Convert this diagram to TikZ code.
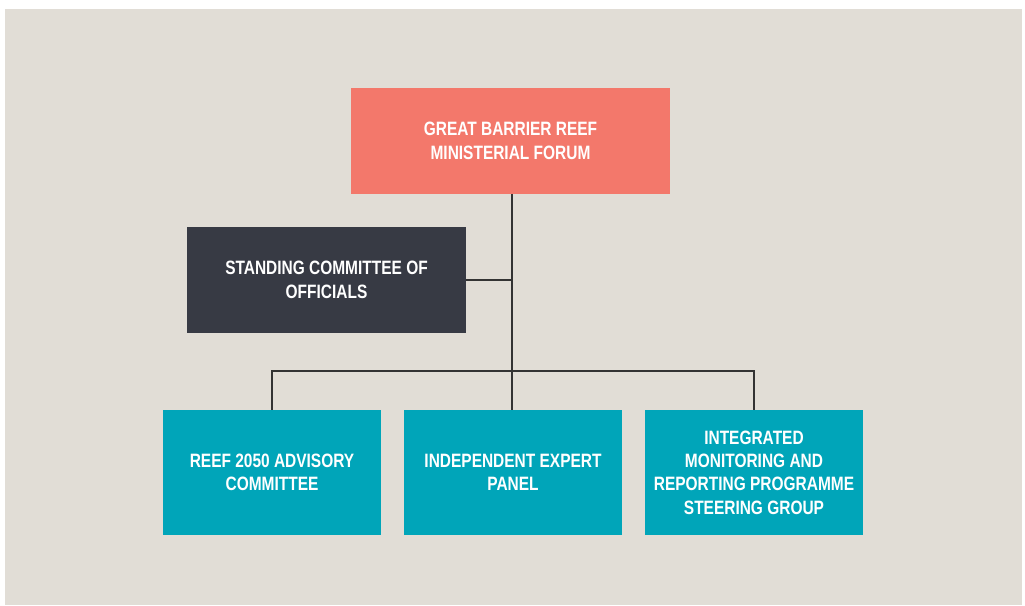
\documentclass[tikz,border=0pt]{standalone}
\usepackage{fontspec}
\newfontfamily\condfont[FakeStretch=0.8]{Liberation Sans}
\definecolor{reefbg}{HTML}{E1DDD6}
\definecolor{reefsalmon}{HTML}{F3786B}
\definecolor{reefdark}{HTML}{373A44}
\definecolor{reefteal}{HTML}{00A5B9}
\definecolor{reefline}{HTML}{333333}
\tikzset{
  box/.style={inner sep=0pt, align=center, text=white,
    font=\condfont\bfseries\fontsize{14.5}{17.5}\selectfont},
  topbox/.style={box, fill=reefsalmon, minimum width=239.25pt, minimum height=79.5pt},
  midbox/.style={box, fill=reefdark, minimum width=209.25pt, minimum height=79.5pt},
  lowbox/.style={box, fill=reefteal, minimum width=163.5pt, minimum height=93.75pt},
  link/.style={draw=reefline, line width=0.8pt}
}

\begin{document}
\begin{tikzpicture}[x=0.75pt, y=-0.75pt]
			%%%%% START %%%%%
			
			\useasboundingbox (0, 0) rectangle (1025, 606);
			\fill[reefbg] (5, 9) rectangle (1022, 605);
			
			\node[topbox] (forum) at (510.5, 141) {GREAT BARRIER REEF\\MINISTERIAL FORUM};
			\node[midbox] (officials) at (326.5, 280) {STANDING COMMITTEE OF\\OFFICIALS};
			
			\node[lowbox] (advisory) at (272, 472.5) {REEF 2050 ADVISORY\\COMMITTEE};
			\node[lowbox] (panel) at (513, 472.5) {INDEPENDENT EXPERT\\PANEL};
			\node[lowbox] (imrp) at (754, 472.5) {INTEGRATED\\MONITORING AND\\REPORTING PROGRAMME\\STEERING GROUP};
			
			\coordinate (spine) at (512, 194);
			\coordinate (bus) at (512, 371);
			
			\draw[link] (spine) -- (spine |- panel.north);
			\draw[link] (officials.east) -- (officials.east -| spine);
			\draw[link] (advisory.north) |- (bus) -| (imrp.north);
			
			%%%%% END %%%%%
\end{tikzpicture}
\end{document}
